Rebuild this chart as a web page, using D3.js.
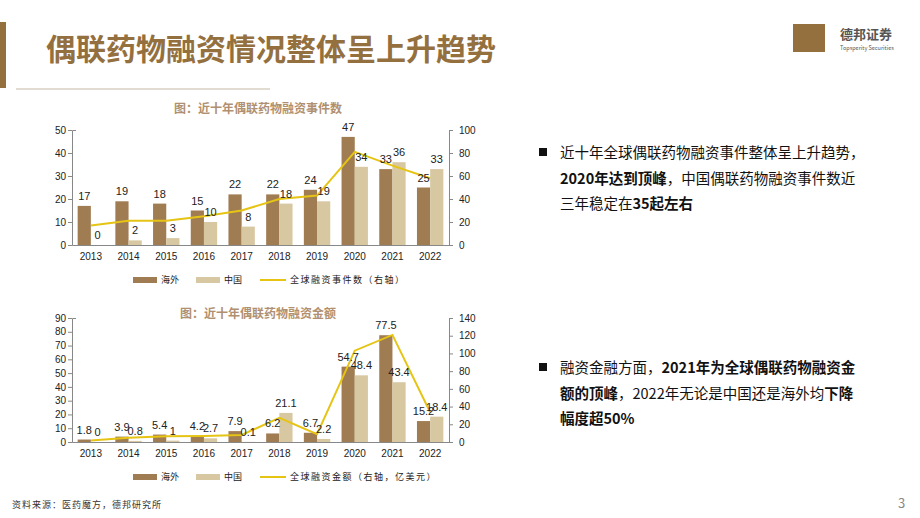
<!DOCTYPE html>
<html><head><meta charset="utf-8">
<script src="https://cdn.jsdelivr.net/npm/d3@7"></script>
<style>body{margin:0;background:#fff}svg{font-family:"Noto Sans CJK SC","Liberation Sans",sans-serif}</style>
</head><body><svg id="c" width="920" height="518"></svg>
<script>
const years = ["2013","2014","2015","2016","2017","2018","2019","2020","2021","2022"]
const evOverseas = [17,19,18,15,22,22,24,47,33,25]
const evChina = [0,2,3,10,8,18,19,34,36,33]
const evTotal = [17,21,21,25,30,40,43,81,69,58]
const amtOverseas = [1.8,3.9,5.4,4.2,7.9,6.2,6.7,54.7,77.5,15.2]
const amtChina = [0,0.8,1,2.7,0.1,21.1,2.2,48.4,43.4,18.4]
const amtTotal = [1.8,4.7,6.4,6.9,8.0,27.3,8.9,103.1,120.9,33.6]

const brown = "#A07C52", beige = "#D8C8A2", yellow = "#E6C414", titleC = "#94703F"
const svg = d3.select("#c")

// header
svg.append("rect").attr("x",0).attr("y",22).attr("width",6).attr("height",66).attr("fill","#94703F")
svg.append("line").attr("x1",16).attr("x2",270).attr("y1",89).attr("y2",89).attr("stroke","#d8cfc2").attr("stroke-width",1.5)
svg.append("text").attr("x",46).attr("y",60).attr("font-size",30).attr("font-weight","bold").attr("fill",titleC).text("偶联药物融资情况整体呈上升趋势")
svg.append("rect").attr("x",793).attr("y",24).attr("width",32).attr("height",28).attr("fill","#94703F")
svg.append("text").attr("x",840).attr("y",39).attr("font-size",13).attr("font-weight","bold").attr("fill","#555").text("德邦证券")
svg.append("text").attr("x",840).attr("y",50).attr("font-size",5.5).attr("fill","#555").text("Topsperity Securities")

function chart(o) {
  const x = d3.scaleBand().domain(years).range([72,449]).paddingInner(0.3).paddingOuter(0.15)
  const yl = d3.scaleLinear().domain([0,o.lmax]).range([o.bottom,o.top])
  const yr = d3.scaleLinear().domain([0,o.rmax]).range([o.bottom,o.top])
  const g = svg.append("g").attr("font-family","Liberation Sans, Arial").attr("font-size",10)
  const ax = (sel) => { sel.selectAll("text").attr("fill","#222").attr("font-size",10); sel.selectAll("path,line").attr("stroke","#888") }
  g.append("g").attr("transform",`translate(72,0)`).call(d3.axisLeft(yl).ticks(o.lmax/10).tickSize(-4).tickPadding(6)).call(ax)
    .call(s=>s.selectAll(".tick line").attr("x2",-4))
  g.append("g").attr("transform",`translate(449,0)`).call(d3.axisRight(yr).ticks(o.rmax/20).tickSize(4).tickPadding(6)).call(ax)
  g.append("g").attr("transform",`translate(0,${o.bottom})`).call(d3.axisBottom(x).tickSize(0).tickPadding(8)).call(ax)
  const bw = x.bandwidth()/2
  g.selectAll(".o").data(o.a).join("rect").attr("x",(d,i)=>x(years[i])).attr("y",d=>yl(d)).attr("width",bw).attr("height",d=>o.bottom-yl(d)).attr("fill",brown)
  g.selectAll(".c").data(o.b).join("rect").attr("x",(d,i)=>x(years[i])+bw).attr("y",d=>yl(d)).attr("width",bw).attr("height",d=>o.bottom-yl(d)).attr("fill",beige)
  g.append("path").datum(o.t).attr("fill","none").attr("stroke",yellow).attr("stroke-width",2)
    .attr("d",d3.line().x((d,i)=>x(years[i])+bw).y(d=>yr(d)))
  const lab = (arr,off) => g.append("g").selectAll("text").data(arr).join("text")
    .attr("x",(d,i)=>x(years[i])+off).attr("y",d=>yl(d)-6).attr("text-anchor","middle").attr("font-size",11).attr("fill","#222").text(d=>d)
  lab(o.a,bw/2); lab(o.b,bw*1.5)
  svg.append("text").attr("x",258).attr("y",o.titleY).attr("text-anchor","middle").attr("font-size",12).attr("font-weight","bold").attr("fill","#B09070").text(o.title)
  const ly = o.legendY, lg = svg.append("g").attr("font-size",9).attr("fill","#222")
  lg.append("rect").attr("x",133).attr("y",ly-3).attr("width",24).attr("height",6).attr("fill",brown)
  lg.append("text").attr("x",161).attr("y",ly+3).text("海外")
  lg.append("rect").attr("x",196).attr("y",ly-3).attr("width",24).attr("height",6).attr("fill",beige)
  lg.append("text").attr("x",224).attr("y",ly+3).text("中国")
  lg.append("line").attr("x1",260).attr("x2",286).attr("y1",ly).attr("y2",ly).attr("stroke",yellow).attr("stroke-width",2)
  lg.append("text").attr("x",290).attr("y",ly+3).attr("letter-spacing",1.5).text(o.ltext)
}
chart({top:130,bottom:245,lmax:50,rmax:100,a:evOverseas,b:evChina,t:evTotal,title:"图：近十年偶联药物融资事件数",titleY:113,legendY:280,ltext:"全球融资事件数（右轴）"})
chart({top:318,bottom:442,lmax:90,rmax:140,a:amtOverseas,b:amtChina,t:amtTotal,title:"图：近十年偶联药物融资金额",titleY:318,legendY:477,ltext:"全球融资金额（右轴，亿美元）"})

// bullets
const bullets = [
  {y:158, lines:[[["近十年全球偶联药物融资事件整体呈上升趋势，",0]],[["2020年达到顶峰",1],["，中国偶联药物融资事件数近",0]],[["三年稳定在",0],["35起左右",1]]]},
  {y:373, lines:[[["融资金融方面，",0],["2021年为全球偶联药物融资金",1]],[["额的顶峰",1],["，2022年无论是中国还是海外均",0],["下降",1]],[["幅度超50%",1]]]}
]
bullets.forEach(b=>{
  svg.append("rect").attr("x",539).attr("y",b.y-10).attr("width",8).attr("height",8).attr("fill","#111")
  b.lines.forEach((ln,i)=>{
    const t = svg.append("text").attr("x",560).attr("y",b.y+i*25.5).attr("font-size",14.5).attr("fill","#111")
    ln.forEach(([s,bold])=>t.append("tspan").attr("font-weight",bold?"bold":"normal").text(s))
  })
})
svg.append("text").attr("x",12).attr("y",508).attr("font-size",9).attr("fill","#333").attr("letter-spacing",1).text("资料来源：医药魔方，德邦研究所")
svg.append("text").attr("x",898).attr("y",508).attr("font-size",13).attr("fill","#888").text("3")
</script></body></html>
